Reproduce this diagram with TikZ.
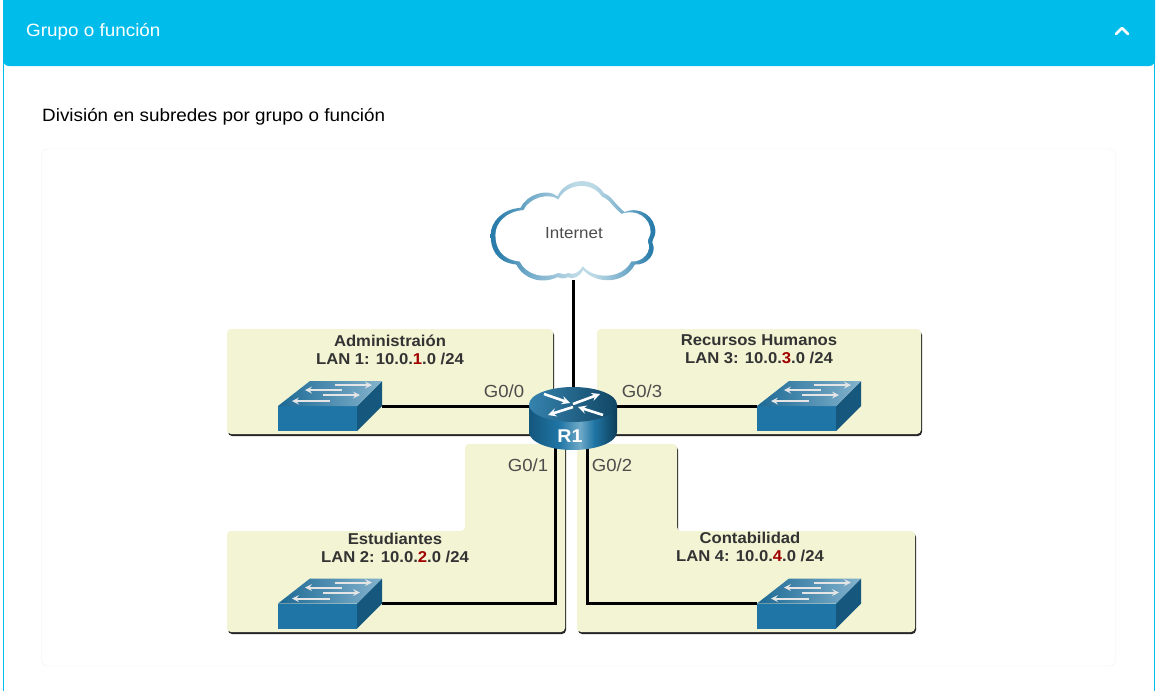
\documentclass[tikz,border=0pt]{standalone}
\usepackage{fontspec}
\setmainfont[FakeStretch=1.06]{Liberation Sans}
\usetikzlibrary{shadows}

\definecolor{headcyan}{HTML}{00BCEB}
\definecolor{lanfill}{HTML}{F2F4D3}
\definecolor{netred}{HTML}{A00000}
\definecolor{swfront}{HTML}{1F75A5}
\definecolor{swside}{HTML}{15577D}
\definecolor{cloudblue}{HTML}{2A7DAB}
\definecolor{cloudmid}{HTML}{6FA9C8}
\definecolor{cloudpale}{HTML}{BCD9E6}

\pgfdeclarehorizontalshading{cloudgrad}{100bp}{color(0bp)=(cloudblue); color(27bp)=(cloudblue); color(36bp)=(cloudmid); color(50bp)=(cloudpale); color(56bp)=(cloudpale); color(66bp)=(cloudmid); color(73bp)=(cloudblue); color(100bp)=(cloudblue)}
\pgfdeclarehorizontalshading{bodygrad}{100bp}{color(0bp)=(swside); color(25bp)=(swside); color(42bp)=(swfront); color(54bp)=(cloudmid); color(62bp)=(swfront); color(75bp)=(swside!70!black); color(100bp)=(swside!70!black)}

\newcommand{\cloudpath}{(-55,31) .. controls (-75,29) and (-80,15) .. (-80,3)
  .. controls (-80,-10) and (-68,-22) .. (-51,-23)
  .. controls (-45,-36) and (-25,-42) .. (-15,-34)
  .. controls (-8,-50) and (18,-55) .. (30,-37)
  .. controls (38,-34) and (40,-27) .. (50,-19)
  .. controls (65,-25) and (80,-15) .. (80,0)
  .. controls (80,4) and (77,7) .. (77,10)
  .. controls (82,20) and (72,32) .. (60,31)
  .. controls (50,50) and (22,50) .. (10,36)
  .. controls (7,42) and (0,46) .. (-5,43)
  .. controls (-8,45) and (-12,44) .. (-15,43)
  .. controls (-30,50) and (-48,45) .. (-55,31) -- cycle}
\newcommand{\redn}[1]{\textcolor{netred}{#1}}

\tikzset{
  lan/.style={fill=lanfill, rounded corners=4, drop shadow={shadow xshift=1,shadow yshift=2,fill=black!85,opacity=1}},
  lanlabel/.style={align=center, inner sep=0, text=black!80, font=\fontsize{15.7}{17.8}\selectfont\bfseries},
  portlabel/.style={inner sep=0, text=black!70, font=\fontsize{17.5}{20}\selectfont},
  link/.style={line width=3, black},
  flow/.style={white!90!black, line width=2, ->, >=stealth},
  rflow/.style={white, line width=2.6, ->, >=stealth},
  swnode/.style={minimum width=103, minimum height=50, inner sep=0},
  switch/.pic={
    \fill[swfront] (-52,0) rectangle (27,25);
    \fill[swside] (27,0) -- (52,-25) -- (52,0) -- (27,25) -- cycle;
    \shade[left color=swfront!90!black, right color=swfront!55!white] (-52,0) -- (-20,-25) -- (52,-25) -- (27,0) -- cycle;
    \draw[flow] (5,-21) -- (42,-21);
    \draw[flow] (12,-16) -- (-25,-16);
    \draw[flow] (-7,-11) -- (30,-11);
    \draw[flow] (0,-5) -- (-38,-5);
  },
}

\begin{document}
\begin{tikzpicture}[x=1pt,y=-1pt]
  \useasboundingbox (0,0) rectangle (1157,691);
  \fill[white] (0,0) rectangle (1157,691);

  % page frame
  \draw[headcyan] (3.5,50) -- (3.5,691);
  \draw[headcyan] (1154.5,50) -- (1154.5,691);
  \fill[headcyan, rounded corners=6] (3,-10) rectangle (1155,66);
  \node[anchor=west, inner sep=0, white, font=\fontsize{17.8}{20}\selectfont] (head) at (26,32) {Grupo o función};
  \coordinate (chevl) at (1116,34);
  \coordinate (chevm) at (1122,28);
  \coordinate (chevr) at (1128,34);
  \draw[white, line width=2.5, line cap=round, line join=round] (chevl) -- (chevm) -- (chevr);
  \node[anchor=west, inner sep=0, black, font=\fontsize{17.8}{20}\selectfont] (title) at (42,117) {División en subredes por grupo o función};
  \draw[black!6, rounded corners=6] (41.5,149) rectangle (1115.5,666);

  % LAN panels
  \path[lan] (227,329) rectangle (553,434);
  \path[lan] (597,329) rectangle (921,434);
  \path[lan] (227,531) -- (465,531) -- (465,444) -- (565,444) -- (565,632) -- (227,632) -- cycle;
  \path[lan] (577,444) -- (677,444) -- (677,531) -- (915,531) -- (915,632) -- (577,632) -- cycle;

  \node[lanlabel] (lan1) at (390,349.5) {Administraión\\LAN 1: 10.0.\redn{1}.0 /24};
  \node[lanlabel] (lan3) at (759,349.5) {Recursos Humanos\\LAN 3: 10.0.\redn{3}.0 /24};
  \node[lanlabel] (lan2) at (395,548) {Estudiantes\\LAN 2: 10.0.\redn{2}.0 /24};
  \node[lanlabel] (lan4) at (750,547) {Contabilidad\\LAN 4: 10.0.\redn{4}.0 /24};

  % devices, drawn after the links
  \node[minimum width=160, minimum height=96, inner sep=0] (inet) at (573,232) {};
  \node[minimum width=88, minimum height=63, inner sep=0] (r1) at (573,418.5) {};
  \node[swnode] (sw1) at (330,406) {};
  \node[swnode] (sw3) at (809,406) {};
  \node[swnode] (sw2) at (330,603.5) {};
  \node[swnode] (sw4) at (809,603.5) {};
  \coordinate (g1) at (555,430);
  \coordinate (g2) at (587,430);

  \draw[link] (inet) -- (r1);
  \draw[link] (sw1) -- (sw1 -| r1);
  \draw[link] (sw3) -- (sw3 -| r1);
  \draw[link] (sw2) -| (g1);
  \draw[link] (sw4) -| (g2);

  % cloud
  \begin{scope}[shift={(inet.center)}]
    \begin{scope}[xscale=1.03,yscale=1.05]
      \shade[shading=cloudgrad] \cloudpath;
    \end{scope}
    \begin{scope}[xscale=0.97,yscale=0.95]
      \fill[white] \cloudpath;
    \end{scope}
  \end{scope}
  \node[inner sep=0, text=black!70, font=\fontsize{16}{18}\selectfont] (inettxt) at (574,233) {Internet};

  % router
  \shade[shading=bodygrad]
    (529,405) -- (529,432) arc[start angle=180, end angle=0, x radius=44, y radius=18] -- (617,405) -- cycle;
  \shade[left color=swfront!90!white, right color=swside!80!black] (573,404.5) ellipse[x radius=44, y radius=17.5];
  \draw[rflow] (544,394) -- (570,403);
  \draw[rflow] (573,404) -- (600,394);
  \draw[rflow] (573,407) -- (548,415);
  \draw[rflow] (603,415) -- (578,407);
  \node[inner sep=0, white, font=\fontsize{18.5}{18}\selectfont\bfseries] (r1txt) at (570,436) {R1};

  \pic at (sw1) {switch};
  \pic at (sw3) {switch};
  \pic at (sw2) {switch};
  \pic at (sw4) {switch};

  \node[portlabel] (p0) at (504,391) {G0/0};
  \node[portlabel] (p3) at (642,391) {G0/3};
  \node[portlabel] (p1) at (528,465) {G0/1};
  \node[portlabel] (p2) at (612,465) {G0/2};
\end{tikzpicture}
\end{document}
